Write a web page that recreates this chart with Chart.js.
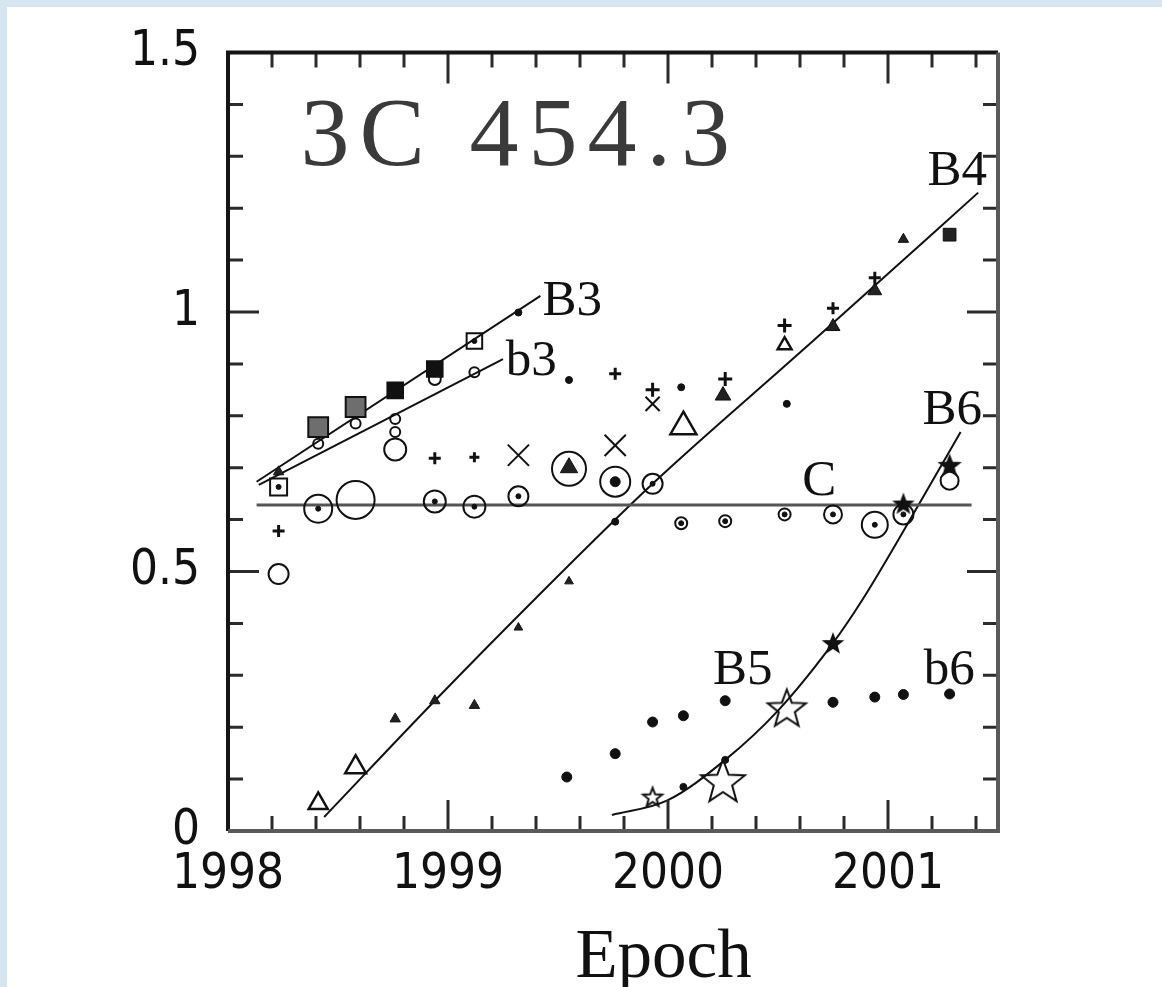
<!DOCTYPE html>
<html>
<head>
<meta charset="utf-8">
<title>3C 454.3</title>
<script src="https://cdn.jsdelivr.net/npm/chart.js@4.4.1/dist/chart.umd.min.js"></script>
<style>
  html, body { margin: 0; padding: 0; background: #d7e5f0; overflow: hidden; }
  #paper { position: absolute; left: 7px; top: 7px; width: 1155px; height: 980px; background: #fff; }
  #chart { position: absolute; left: 0; top: 0; }
</style>
</head>
<body>
<div id="paper"></div>
<canvas id="chart" width="1162" height="987"></canvas>
<script>
// ---- axis ticks
const xTickValues = [1998, 1999, 2000, 2001];
const yTickValues = [0, 0.5, 1, 1.5];

// ---- fitted tracks
const fitB3X = [1998.13, 1999.42];
const fitB3Y = [0.673, 1.031];
const fitb3X = [1998.14, 1999.25];
const fitb3Y = [0.667, 0.909];
const fitCX = [1998.13, 2001.38];
const fitCY = [0.628, 0.628];
const fitB4X = [1998.437, 1998.94, 1999.40, 1999.93, 2000.56, 2000.83, 2001.41];
const fitB4Y = [0.027, 0.251, 0.449, 0.669, 0.907, 1.009, 1.230];
const fitB6X = [1999.745, 1999.997, 2000.26, 2000.50, 2000.75, 2000.88, 2001.14, 2001.33];
const fitB6Y = [0.031, 0.059, 0.137, 0.232, 0.362, 0.443, 0.629, 0.769];

// ---- B3 squares
const b3SquareX = [1998.23, 1998.41, 1998.58, 1998.76, 1998.94, 1999.12];
const b3SquareY = [0.663, 0.778, 0.817, 0.849, 0.890, 0.944];
// ---- b3 small circles
const b3CircleX = [1998.41, 1998.58, 1998.76, 1998.76, 1998.94, 1999.12];
const b3CircleY = [0.746, 0.785, 0.794, 0.769, 0.871, 0.884];
// ---- C circles with a centre dot
const cCircleX = [1998.41, 1998.94, 1999.12, 1999.32, 1999.76, 1999.93, 2000.06, 2000.26, 2000.53, 2000.75, 2000.94, 2001.07];
const cCircleY = [0.621, 0.635, 0.625, 0.645, 0.673, 0.669, 0.593, 0.597, 0.610, 0.610, 0.590, 0.610];
// ---- open circles
const openCircleX = [1998.23, 1998.58, 1998.76, 1999.55, 2001.28];
const openCircleY = [0.495, 0.638, 0.735, 0.698, 0.675];
// ---- plus signs
const plusX = [1998.23, 1998.94, 1999.12, 1999.76, 1999.93, 2000.26, 2000.53, 2000.75, 2000.94];
const plusY = [0.578, 0.718, 0.720, 0.881, 0.850, 0.871, 0.974, 1.007, 1.066];
// ---- crosses
const crossX = [1999.32, 1999.76, 1999.93];
const crossY = [0.724, 0.743, 0.823];
// ---- small dots
const dotX = [1999.32, 1999.55, 2000.06, 2000.54, 1999.76, 2000.07, 2000.26];
const dotY = [0.999, 0.869, 0.855, 0.823, 0.596, 0.085, 0.137];
// ---- triangles
const triFilledX = [1998.23, 1998.76, 1998.94, 1999.12, 1999.32, 1999.55, 1999.55, 2000.25, 2000.75, 2000.94, 2001.07];
const triFilledY = [0.692, 0.216, 0.251, 0.242, 0.392, 0.481, 0.700, 0.839, 0.972, 1.041, 1.140];
const triOpenX = [1998.41, 1998.58, 2000.07, 2000.53];
const triOpenY = [0.053, 0.123, 0.779, 0.936];
const squareB4X = [2001.28];
const squareB4Y = [1.149];
// ---- B5 / B6 stars
const starX = [1999.93, 2000.25, 2000.54, 2000.75, 2001.07, 2001.28];
const starY = [0.066, 0.098, 0.238, 0.362, 0.631, 0.705];
// ---- b6 dots
const b6X = [1999.54, 1999.76, 1999.93, 2000.07, 2000.26, 2000.75, 2000.94, 2001.07, 2001.28];
const b6Y = [0.104, 0.149, 0.210, 0.222, 0.251, 0.248, 0.258, 0.263, 0.264];

// ---- component labels
const labelText = ['B3', 'b3', 'B4', 'B6', 'C', 'B5', 'b6'];
const labelX = [1999.43, 1999.262, 2001.18, 2001.157, 2000.61, 2000.205, 2001.162];
const labelY = [0.995, 0.878, 1.245, 0.784, 0.648, 0.284, 0.284];

const INK = '#111';
const tickFont = { family: "'DejaVu Sans Condensed', 'Liberation Sans', sans-serif", size: 49, lineHeight: 1 };
const serif = "'Liberation Serif', 'Times New Roman', serif";

const pts = (xs, ys) => xs.map((x, i) => ({ x, y: ys[i] }));

const starCache = {};
function starImage(r, filled) {
  const key = r + (filled ? 'f' : 'o');
  if (starCache[key]) return starCache[key];
  const c = document.createElement('canvas');
  c.width = c.height = Math.ceil(2 * r + 6);
  const g = c.getContext('2d');
  const cx = c.width / 2, cy = c.height / 2 + r * 0.1;
  g.beginPath();
  for (let k = 0; k < 10; k++) {
    const rr = k % 2 ? r * 0.42 : r;
    const ang = -Math.PI / 2 + k * Math.PI / 5;
    g.lineTo(cx + rr * Math.cos(ang), cy + rr * Math.sin(ang));
  }
  g.closePath();
  g.lineJoin = 'miter';
  g.lineWidth = 2;
  g.strokeStyle = INK;
  g.stroke();
  if (filled) { g.fillStyle = INK; g.fill(); }
  starCache[key] = c;
  return c;
}

// centre dots for the dotted circles and open squares
const centreX = cCircleX.concat([b3SquareX[0], b3SquareX[5]]);
const centreY = cCircleY.concat([b3SquareY[0], b3SquareY[5]]);

function line(xs, ys, color, width, smooth) {
  return {
    data: pts(xs, ys), showLine: true, pointRadius: 0, borderColor: color, borderWidth: width,
    cubicInterpolationMode: smooth ? 'monotone' : 'default', tension: 0, order: 10
  };
}

const textPlugin = {
  id: 'texts',
  afterDatasetsDraw(chart) {
    const { ctx, chartArea: a, scales: { x, y } } = chart;
    ctx.save();
    ctx.fillStyle = INK;
    ctx.textBaseline = 'alphabetic';
    ctx.textAlign = 'left';
    ctx.font = '51px ' + serif;
    labelText.forEach((t, i) => ctx.fillText(t, x.getPixelForValue(labelX[i]), y.getPixelForValue(labelY[i])));
    // title, spaced out like the original lettering
    ctx.font = '98px ' + serif;
    ctx.fillStyle = '#3a3a3a';
    ctx.letterSpacing = '10px';
    ctx.fillText('3C 454.3', x.getPixelForValue(1998.33), y.getPixelForValue(1.283));
    ctx.letterSpacing = '0px';
    ctx.fillStyle = INK;
    ctx.font = '69px ' + serif;
    ctx.textAlign = 'center';
    ctx.fillText('Epoch', x.getPixelForValue(1999.98), a.bottom + 146);
    ctx.restore();
  }
};

const framePlugin = {
  id: 'frame',
  afterDraw(chart) {
    const { ctx, chartArea: a, scales: { x, y } } = chart;
    ctx.save();
    ctx.strokeStyle = '#2b2b2b';
    ctx.lineWidth = 3;
    ctx.beginPath();
    for (let i = 1; i < 18; i++) {
      const px = x.getPixelForValue(1998 + i * 0.2);
      const len = i % 5 === 0 ? 31 : 15;
      ctx.moveTo(px, a.bottom); ctx.lineTo(px, a.bottom - len);
      ctx.moveTo(px, a.top); ctx.lineTo(px, a.top + len);
    }
    for (let i = 1; i < 15; i++) {
      const py = y.getPixelForValue(i * 0.1);
      const len = i % 5 === 0 ? 31 : 15;
      ctx.moveTo(a.left, py); ctx.lineTo(a.left + len, py);
      ctx.moveTo(a.right, py); ctx.lineTo(a.right - len, py);
    }
    ctx.stroke();
    ctx.lineWidth = 4;
    ctx.strokeStyle = '#151515';
    ctx.beginPath();
    ctx.moveTo(a.left, a.bottom); ctx.lineTo(a.left, a.top); ctx.lineTo(a.right, a.top);
    ctx.stroke();
    ctx.strokeStyle = '#5a5a5a';
    ctx.beginPath();
    ctx.moveTo(a.left, a.bottom); ctx.lineTo(a.right, a.bottom); ctx.lineTo(a.right, a.top);
    ctx.stroke();
    ctx.restore();
  }
};

new Chart(document.getElementById('chart'), {
  type: 'scatter',
  data: {
    datasets: [
      { data: pts(centreX, centreY), pointStyle: 'circle',
        pointRadius: centreX.map((v, i) => (i === 4 ? 5 : 2.5)),
        backgroundColor: INK, borderColor: INK, borderWidth: 1 },
      { data: pts(b3SquareX, b3SquareY), pointStyle: 'rect',
        pointRadius: [12, 14, 14, 11, 11, 11],
        backgroundColor: ['rgba(0,0,0,0)', '#6e6e6e', '#6e6e6e', INK, INK, 'rgba(0,0,0,0)'],
        borderColor: INK, borderWidth: 2 },
      { data: pts(squareB4X, squareB4Y), pointStyle: 'rect', pointRadius: 9,
        backgroundColor: '#222', borderColor: INK, borderWidth: 1 },
      { data: pts(b3CircleX, b3CircleY), pointStyle: 'circle', pointRadius: [5, 5, 5, 5, 6, 5],
        backgroundColor: 'rgba(0,0,0,0)', borderColor: INK, borderWidth: 2 },
      { data: pts(cCircleX, cCircleY), pointStyle: 'circle',
        pointRadius: [14, 11, 11, 10, 15, 10, 6, 6, 6, 9, 13, 10],
        backgroundColor: 'rgba(0,0,0,0)', borderColor: INK, borderWidth: 2 },
      { data: pts(openCircleX, openCircleY), pointStyle: 'circle', pointRadius: [10, 19, 11, 17, 9],
        backgroundColor: 'rgba(0,0,0,0)', borderColor: INK, borderWidth: 2 },
      { data: pts(plusX, plusY), pointStyle: 'cross', pointRadius: [6, 6, 5, 6, 7, 7, 7, 6, 6],
        borderColor: INK, borderWidth: 3 },
      { data: pts(crossX, crossY), pointStyle: 'crossRot', pointRadius: [15, 15, 10],
        borderColor: INK, borderWidth: 2 },
      { data: pts(dotX, dotY), pointStyle: 'circle', pointRadius: 3.5,
        backgroundColor: INK, borderColor: INK, borderWidth: 1 },
      { data: pts(triFilledX, triFilledY), pointStyle: 'triangle',
        pointRadius: [6, 6, 6, 6, 5, 5, 10, 9, 8, 8, 6],
        backgroundColor: '#222', borderColor: INK, borderWidth: 1 },
      { data: pts(triOpenX, triOpenY), pointStyle: 'triangle', pointRadius: [11, 12, 15, 8],
        backgroundColor: 'rgba(0,0,0,0)', borderColor: INK, borderWidth: 2.5 },
      { data: pts(starX, starY),
        pointStyle: [starImage(10, false), starImage(23, false), starImage(20, false),
                     starImage(9, true), starImage(9, true), starImage(10, true)],
        pointRadius: 8 },
      { data: pts(b6X, b6Y), pointStyle: 'circle', pointRadius: 5,
        backgroundColor: INK, borderColor: INK, borderWidth: 1 },
      line(fitB3X, fitB3Y, INK, 2, false),
      line(fitb3X, fitb3Y, INK, 2, false),
      line(fitCX, fitCY, '#555', 3, false),
      line(fitB4X, fitB4Y, INK, 2, true),
      line(fitB6X, fitB6Y, INK, 2, true)
    ]
  },
  options: {
    responsive: false,
    animation: false,
    events: [],
    layout: { padding: { left: 0, top: 48, right: 164, bottom: 0 } },
    plugins: { legend: { display: false }, tooltip: { enabled: false } },
    scales: {
      x: {
        type: 'linear', min: 1998, max: 2001.5,
        grid: { display: false, drawTicks: false }, border: { display: false },
        afterBuildTicks: s => { s.ticks = xTickValues.map(v => ({ value: v })); },
        afterFit: s => { s.height = 156; },
        ticks: { callback: v => String(v), font: tickFont, color: INK, padding: 20, maxRotation: 0, autoSkip: false }
      },
      y: {
        type: 'linear', min: 0, max: 1.5,
        grid: { display: false, drawTicks: false }, border: { display: false },
        afterBuildTicks: s => { s.ticks = yTickValues.map(v => ({ value: v })); },
        afterFit: s => { s.width = 228; },
        ticks: { callback: v => String(v), font: tickFont, color: INK, padding: 28, autoSkip: false }
      }
    }
  },
  plugins: [textPlugin, framePlugin]
});
</script>
</body>
</html>
